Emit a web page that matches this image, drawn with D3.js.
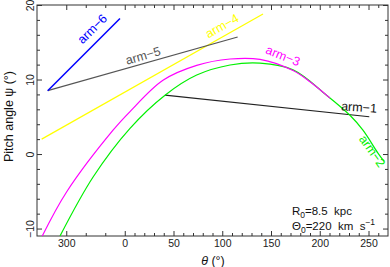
<!DOCTYPE html>
<html>
<head>
<meta charset="utf-8">
<script src="https://cdn.jsdelivr.net/npm/d3@7"></script>
<style>
body { margin: 0; background: #fff; }
text { font-family: "Liberation Sans", Arial, Helvetica, sans-serif; }
</style>
</head>
<body>
<script>
// theta runs 270..360 on the left (shown as -90..0) then 0..270
var xMajor = [-60, 0, 50, 100, 150, 200, 250];
var xMajorLabels = ["300", "0", "50", "100", "150", "200", "250"];
var xMinor = [-40, -20, 10, 20, 30, 40, 60, 70, 80, 90, 110, 120, 130, 140, 160, 170, 180, 190, 210, 220, 230, 240, 260];
var yMajor = [-10, 0, 10, 20];
var yMinor = [-8, -6, -4, -2, 2, 4, 6, 8, 12, 14, 16, 18];

// arms: [theta, pitch angle]
var arm1 = [[41.3, 7.9], [250.8, 5.0]];
var arm2 = [[-66.4, -11.0], [-32.3, -3.05], [5.4, 3.45], [41.3, 7.9], [73.8, 10.6], [108, 11.95],
            [138.7, 12.2], [172.6, 11.3], [207, 7.9], [231, 5.2], [244.3, 3.2], [259.7, 0.13], [266, -1.0]];
var arm3 = [[-84.6, -11.0], [-59.5, -5.06], [-12, 3.2], [5.4, 5.7], [39.2, 9.9], [73.8, 11.9],
            [108, 12.75], [138.7, 12.7], [172.6, 11.2], [190, 9.7], [210.5, 7.5]];
var arm4 = [[-85.2, 2.0], [141.8, 18.8]];
var arm5 = [[-79, 8.5], [115.8, 15.7]];
var arm6 = [[-79, 8.5], [-4.9, 18.2]];

var armNames = ["arm−1", "arm−2", "arm−3", "arm−4", "arm−5", "arm−6"];
var armColors = ["#222222", "#00f000", "#ff00ff", "#ffff00", "#555555", "#0000ff"];
var armData = [arm1, arm2, arm3, arm4, arm5, arm6];
// label anchor (theta, psi) and rotation
var labelAt = [[240.3, 6.3, 4], [254, 0.4, 55], [162.3, 13.2, 22], [99.7, 17.2, -29.5], [18.7, 13.2, -16], [-33.5, 16.8, -45]];

var margin = {top: 5, left: 37, bottom: 31, right: 2};
var totalWidth = 390;
var totalHeight = 267;
var width = totalWidth - margin.left - margin.right;
var height = totalHeight - margin.top - margin.bottom;

var x = d3.scaleLinear().domain([-90, 270]).range([0, width]);
var y = d3.scaleLinear().domain([-11, 20]).range([height, 0]);

var svg = d3.select("body").append("svg")
  .attr("width", totalWidth)
  .attr("height", totalHeight)
  .append("g")
  .attr("transform", "translate(" + margin.left + "," + margin.top + ")");

svg.append("clipPath").attr("id", "clip")
  .append("rect").attr("width", width).attr("height", height);

function styleAxis(g) {
  g.select(".domain").remove();
  g.selectAll("line").attr("stroke", "#333");
}

// bottom
svg.append("g").attr("transform", "translate(0," + height + ")")
  .call(d3.axisBottom(x).tickValues(xMajor).tickSize(-5).tickPadding(4)
    .tickFormat(function(d, i) { return xMajorLabels[i]; }))
  .call(styleAxis)
  .selectAll("text").attr("font-size", 10.5).attr("fill", "#222")
  .attr("font-family", "Liberation Sans, Arial, sans-serif");
svg.append("g").attr("transform", "translate(0," + height + ")")
  .call(d3.axisBottom(x).tickValues(xMinor).tickSize(-3).tickFormat(""))
  .call(styleAxis);
// top
svg.append("g")
  .call(d3.axisTop(x).tickValues(xMajor).tickSize(-5).tickFormat(""))
  .call(styleAxis);
svg.append("g")
  .call(d3.axisTop(x).tickValues(xMinor).tickSize(-3).tickFormat(""))
  .call(styleAxis);
// left
var yl = svg.append("g")
  .call(d3.axisLeft(y).tickValues(yMajor).tickSize(-5).tickFormat(d3.format("d")))
  .call(styleAxis);
yl.selectAll("text")
  .text(function(d) { return d < 0 ? "−" + Math.abs(d) : d; })
  .attr("x", 0).attr("dy", 0)
  .attr("text-anchor", "middle")
  .attr("transform", "translate(-3.5,0) rotate(-90)")
  .attr("font-size", 10.5).attr("fill", "#222")
  .attr("font-family", "Liberation Sans, Arial, sans-serif");
svg.append("g")
  .call(d3.axisLeft(y).tickValues(yMinor).tickSize(-3).tickFormat(""))
  .call(styleAxis);
// right
svg.append("g").attr("transform", "translate(" + width + ",0)")
  .call(d3.axisRight(y).tickValues(yMajor).tickSize(-5).tickFormat(""))
  .call(styleAxis);
svg.append("g").attr("transform", "translate(" + width + ",0)")
  .call(d3.axisRight(y).tickValues(yMinor).tickSize(-3).tickFormat(""))
  .call(styleAxis);

svg.append("rect")
  .attr("width", width).attr("height", height)
  .attr("fill", "none").attr("stroke", "#333").attr("stroke-width", 1);

var line = d3.line()
  .x(function(d) { return x(d[0]); })
  .y(function(d) { return y(d[1]); });

var plot = svg.append("g").attr("clip-path", "url(#clip)");
armData.forEach(function(d, i) {
  plot.append("path")
    .datum(d)
    .attr("fill", "none")
    .attr("stroke", armColors[i])
    .attr("stroke-width", i == 5 ? 1.5 : 1.2)
    .attr("d", d.length > 2 ? line.curve(d3.curveCatmullRom)(d) : line.curve(d3.curveLinear)(d));
});

labelAt.forEach(function(p, i) {
  svg.append("text")
    .attr("transform", "translate(" + x(p[0]) + "," + y(p[1]) + ") rotate(" + p[2] + ")")
    .attr("text-anchor", "middle")
    .attr("dy", "0.35em")
    .attr("font-size", 12.5)
    .attr("fill", i == 0 ? "#111" : armColors[i])
    .text(armNames[i]);
});

// annotation
var note = svg.append("g").attr("font-size", 11.5).attr("fill", "#111");
var t1 = note.append("text").attr("x", x(171.5)).attr("y", y(-8.2)).attr("xml:space", "preserve");
t1.append("tspan").text("R");
t1.append("tspan").attr("font-size", 8.5).attr("dy", 3).text("0");
t1.append("tspan").attr("dy", -3).text("=8.5\u00a0\u00a0kpc");
var t2 = note.append("text").attr("x", x(171.5)).attr("y", y(-10.2));
t2.append("tspan").text("Θ");
t2.append("tspan").attr("font-size", 8.5).attr("dy", 3).text("0");
t2.append("tspan").attr("dy", -3).text("=220\u00a0\u00a0km\u00a0\u00a0s");
t2.append("tspan").attr("font-size", 8.5).attr("dy", -5).text("−1");

// axis titles
svg.append("text")
  .attr("transform", "translate(" + (13 - margin.left) + "," + (116.5 - margin.top) + ") rotate(-90)")
  .attr("text-anchor", "middle")
  .attr("font-size", 12.5).attr("fill", "#111")
  .text("Pitch angle ψ (°)");

var xt = svg.append("text")
  .attr("x", 213 - margin.left).attr("y", height + 29)
  .attr("text-anchor", "middle")
  .attr("font-size", 12.5).attr("fill", "#111");
xt.append("tspan").attr("font-style", "italic").text("θ");
xt.append("tspan").text(" (°)");
</script>
</body>
</html>
